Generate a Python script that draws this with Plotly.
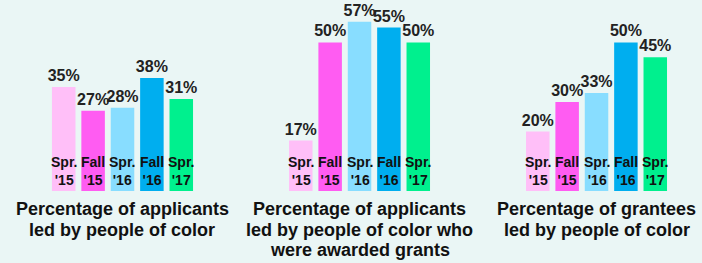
import plotly.graph_objects as go

periods = ["Spr.<br>'15", "Fall<br>'15", "Spr.<br>'16", "Fall<br>'16", "Spr.<br>'17"]
cats = ["S15", "F15", "S16", "F16", "S17"]
applicants = [35, 27, 28, 38, 31]
awarded = [17, 50, 57, 55, 50]
grantees = [20, 30, 33, 50, 45]
titles = [
    ["Percentage of applicants", "led by people of color"],
    ["Percentage of applicants", "led by people of color who", "were awarded grants"],
    ["Percentage of grantees", "led by people of color"],
]
colors = ["#FFBFF8", "#FF5CF2", "#88DDFF", "#00AEEF", "#00F08E"]

FONT = "Liberation Sans"
BG = "#EAF6F5"

fig = go.Figure()
series = [applicants, awarded, grantees]
xnames = ["x", "x2", "x3"]
domains = [[0.0694, 0.2796], [0.4071, 0.6172], [0.7447, 0.9548]]
line_y = [0.2053, 0.1255, 0.0494]

for i, vals in enumerate(series):
    fig.add_trace(go.Bar(
        x=cats, y=vals, xaxis=xnames[i], yaxis="y",
        marker=dict(color=colors, line=dict(width=0)),
        text=[f"{v}%" for v in vals], textposition="outside",
        constraintext="none", cliponaxis=False,
        textfont=dict(family=FONT, size=16, color="#222222", weight="bold"),
        showlegend=False, hoverinfo="skip",
    ))
    for c, p in zip(cats, periods):
        fig.add_annotation(
            x=c, y=0, xref=xnames[i], yref="y", text=p, showarrow=False,
            yanchor="bottom", yshift=1, xanchor="center",
            font=dict(family=FONT, size=14, color="#111111", weight="bold"),
        )
    for j, line in enumerate(titles[i]):
        fig.add_annotation(
            x=0.5, y=line_y[j], xref=f"{xnames[i]} domain", yref="paper",
            text=line, showarrow=False, xanchor="center", yanchor="middle",
            font=dict(family=FONT, size=18, color="#111111", weight="bold"),
        )

layout = dict(
    width=702, height=263,
    margin=dict(l=0, r=0, t=0, b=0),
    paper_bgcolor=BG, plot_bgcolor=BG,
    bargap=0.2,
    yaxis=dict(domain=[0.2738, 1], range=[0, 64.3], visible=False, fixedrange=True),
)
for i, xn in enumerate(xnames):
    key = "xaxis" if i == 0 else f"xaxis{i+1}"
    layout[key] = dict(domain=domains[i], anchor="y", visible=False, fixedrange=True,
                       categoryorder="array", categoryarray=cats)
fig.update_layout(**layout)
fig.write_html("out.html", config={"displayModeBar": False},
               post_script="document.body.style.margin='0';document.body.style.overflow='hidden';document.body.style.background='" + BG + "';")
